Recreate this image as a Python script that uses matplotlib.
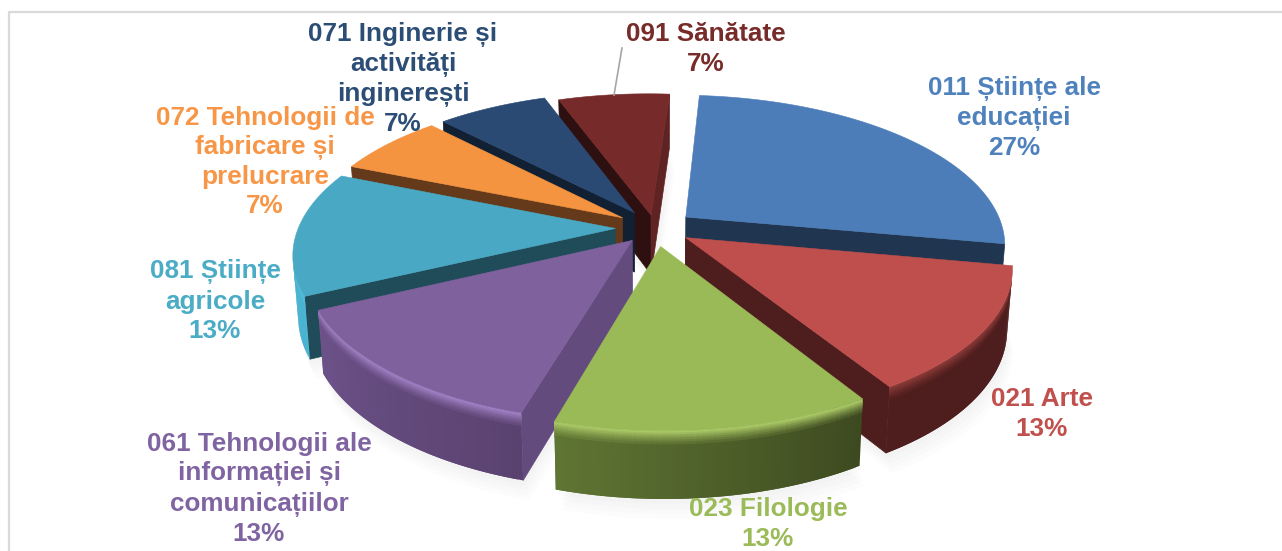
import numpy as np
import matplotlib
matplotlib.use('Agg')
import matplotlib.pyplot as plt
from matplotlib.colors import to_rgb

# data
names = ['011 Științe ale\neducației', '021 Arte', '023 Filologie',
         '061 Tehnologii ale\ninformației și\ncomunicațiilor', '081 Științe\nagricole',
         '072 Tehnologii de\nfabricare și\nprelucrare', '071 Inginerie și\nactivități\ninginerești',
         '091 Sănătate']
counts = [4, 2, 2, 2, 2, 1, 1, 1]
percents = [27, 13, 13, 13, 13, 7, 7, 7]

top_colors = ['#4d7db8', '#bf4f4c', '#9aba58', '#7f619d', '#49a9c5', '#f49340', '#2a4a73', '#762a29']
text_colors = ['#4f81bd', '#c0504d', '#9bbb59', '#8064a2', '#4bacc6', '#f79646', '#2c4d75', '#772c2a']
wall_start = ['#2f4d72', '#4e1d1d', '#3d4a20', '#5a4270', '#4ab4d2', '#7a4a20', '#1a2f4a', '#5e2322']
wall_end = ['#2f4d72', '#4e1d1d', '#5f7533', '#6c5289', '#45a8c4', '#7a4a20', '#1a2f4a', '#5e2322']
rim_colors = ['#3c6591', '#8a3a38', '#aac866', '#a080c4', '#55c0dd', '#f49340', '#2a4a73', '#762a29']
radial_end = ['#1f3550', '#4e1d1d', '#4a5a28', '#634b7d', '#204b58', '#653a1b', '#112033', '#5e2322']
radial_start = ['#1f3550', '#4e1d1d', '#4a5a28', '#634b7d', '#204b58', '#653a1b', '#112033', '#2f1010']

label_pos = [(1014, 118), (1042, 414), (768, 524), (259, 489), (215, 301), (265, 162), (403, 79), (706, 49)]
explode = [0.125, 0.115, 0.125, 0.11, 0.125, 0.125, 0.125, 0.09]
draw_order = [7, 6, 5, 4, 0, 1, 3, 2]

cx, cy = 655, 228
R0, A, p = 317, 146, 0.17
shear = -3
start_angle = 85.5
H = 60


def proj(X, Y):
    w = 1 + p * Y
    return cx + R0 * X / w + shear * Y, cy - A * Y / w, w


def lower(sx, sy, w):
    return cx + (sx - cx) * 0.985, sy + H / w ** 0.6


def blend(a, b, t):
    a, b = np.array(to_rgb(a)), np.array(to_rgb(b))
    return tuple(a + (b - a) * t)


def visible(ax0, ay0, bx0, by0, bx1, by1, ax1, ay1):
    # signed area of the wall quad, negative when it faces the viewer
    xs = [ax0, bx0, bx1, ax1]
    ys = [ay0, by0, by1, ay1]
    s = 0
    for n in range(4):
        s += xs[n] * ys[(n + 1) % 4] - xs[(n + 1) % 4] * ys[n]
    return s < 0


fig = plt.figure(figsize=(12.82, 5.51), dpi=100)
ax = fig.add_axes([0, 0, 1, 1])
ax.set_xlim(0, 1282)
ax.set_ylim(551, 0)
ax.axis('off')

# frame
ax.plot([9, 9, 1282], [551, 12, 12], color='#d9d9d9', lw=1.6)

# angles of each slice
edges = start_angle - np.cumsum([0] + counts) / sum(counts) * 360
shapes = []
for i in range(len(counts)):
    a0, a1 = edges[i], edges[i + 1]
    mid = np.radians((a0 + a1) / 2)
    ox, oy = explode[i] * np.cos(mid), explode[i] * np.sin(mid)
    th = np.radians(np.linspace(a0, a1, counts[i] * 28 + 2))
    sx, sy, w = proj(ox + np.cos(th), oy + np.sin(th))
    tx, ty, tw = proj(np.array([ox]), np.array([oy]))
    shapes.append((sx, sy, w, tx[0], ty[0], tw[0]))

# soft shadow under the slices
for i in draw_order:
    sx, sy, w, tx, ty, tw = shapes[i]
    bx, by = lower(sx, sy, w)
    bx0, by0 = lower(tx, ty, tw)
    for d in (20, 15, 10, 5):
        ax.fill(np.r_[bx0 + d * 0.3, bx + d * 0.3], np.r_[by0 + d, by + d], color='k', alpha=0.012, lw=0, zorder=1)

z = 2
bands = [0, 0.025, 0.05, 0.075, 0.1, 0.13, 0.16, 0.2, 1]
for i in draw_order:
    sx, sy, w, tx, ty, tw = shapes[i]
    bx, by = lower(sx, sy, w)
    bx0, by0 = lower(tx, ty, tw)
    # radial walls, only those facing the viewer
    if visible(tx, ty, sx[0], sy[0], bx[0], by[0], bx0, by0):
        ax.fill([tx, sx[0], bx[0], bx0], [ty, sy[0], by[0], by0], color=radial_start[i], lw=0.5, zorder=z)
    if visible(sx[-1], sy[-1], tx, ty, bx0, by0, bx[-1], by[-1]):
        ax.fill([tx, sx[-1], bx[-1], bx0], [ty, sy[-1], by[-1], by0], color=radial_end[i], lw=0.5, zorder=z)
    z += 1
    # outer wall, with a rounded rim at the top
    n = len(sx)
    for k in range(n - 1):
        if not visible(sx[k], sy[k], sx[k + 1], sy[k + 1], bx[k + 1], by[k + 1], bx[k], by[k]):
            continue
        e = min(k + 2, n - 1)
        wall = blend(wall_start[i], wall_end[i], k / (n - 2))
        for b in range(len(bands) - 1):
            f0, f1 = bands[b], min(bands[b + 1] + 0.03, 1)
            if b == len(bands) - 2:
                col = wall
            else:
                col = blend(rim_colors[i], wall, b / (len(bands) - 2))
            qx = [sx[k] + (bx[k] - sx[k]) * f0, sx[e] + (bx[e] - sx[e]) * f0,
                  sx[e] + (bx[e] - sx[e]) * f1, sx[k] + (bx[k] - sx[k]) * f1]
            qy = [sy[k] + (by[k] - sy[k]) * f0, sy[e] + (by[e] - sy[e]) * f0,
                  sy[e] + (by[e] - sy[e]) * f1, sy[k] + (by[k] - sy[k]) * f1]
            ax.fill(qx, qy, color=col, lw=0, zorder=z)
            z += 0.001
    z += 1
    # top face
    ax.fill(np.r_[tx, sx], np.r_[ty, sy], color=top_colors[i], lw=0.4, zorder=z)
    z += 1

# leader line of the 091 label
ax.plot([622, 614], [48, 95], color='#a6a6a6', lw=1.2, zorder=z)
z += 1

for i in range(len(counts)):
    ax.text(label_pos[i][0], label_pos[i][1], names[i] + '\n' + str(percents[i]) + '%',
            ha='center', va='center', ma='center', color=text_colors[i], fontsize=18.8,
            fontweight='bold', family='Liberation Sans', linespacing=1.27, zorder=z)

fig.savefig('out.png', dpi=100)
